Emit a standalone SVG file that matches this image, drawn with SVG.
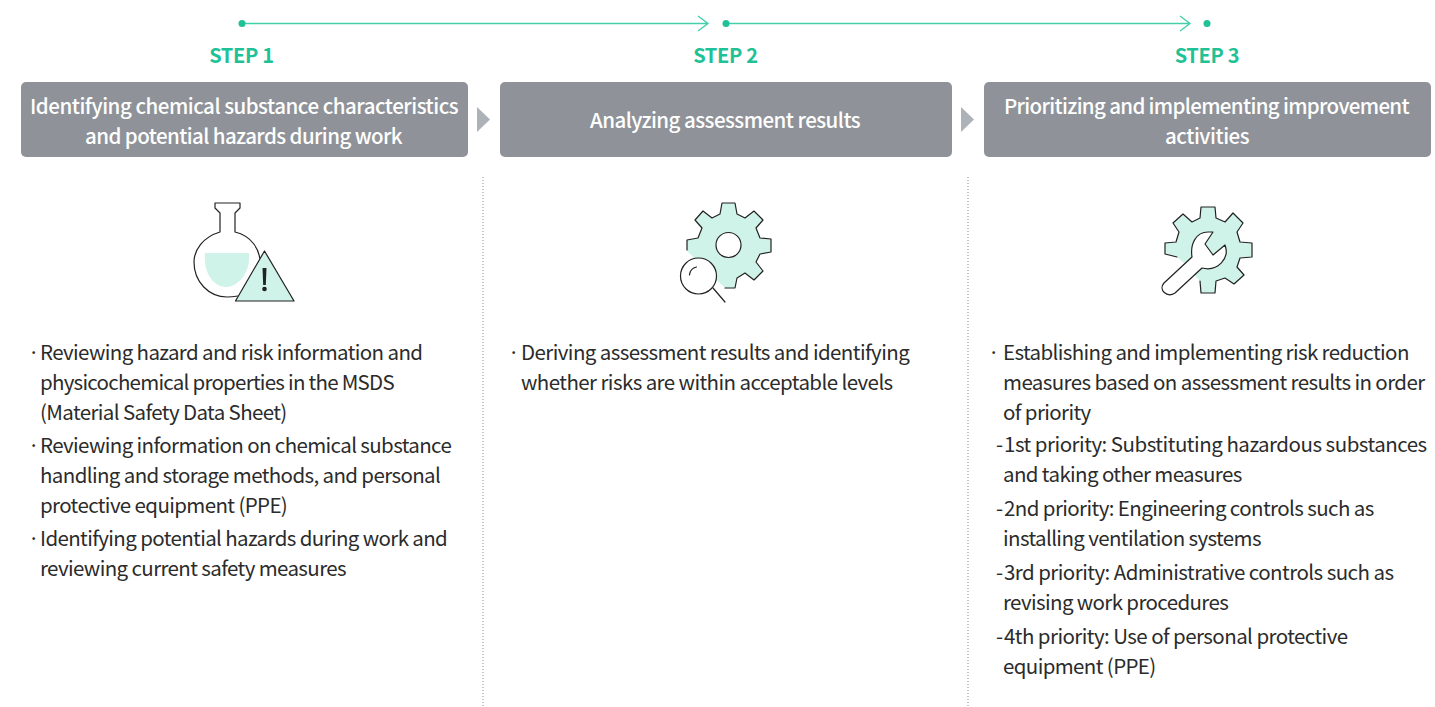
<svg xmlns="http://www.w3.org/2000/svg" width="1435" height="707" viewBox="0 0 1435 707">
<style>
text{font-family:"Noto Sans CJK KR","Noto Sans",sans-serif}
.step{font-size:20px;font-weight:700;fill:#1fc196;text-anchor:middle;letter-spacing:-.3px}
.head{font-size:20.500px;font-weight:500;fill:#fff;text-anchor:middle;letter-spacing:-.6px}
.body{font-size:20.500px;fill:#2b2b2b;letter-spacing:-.62px}
.box{fill:#8f9399}
.tri{fill:#adb2b9}
.flow{stroke:#45d0ac;stroke-width:1.400;fill:none}
.dot{fill:#1fc196}
.div{stroke:#8a8a8a;stroke-width:1;stroke-dasharray:1 2;fill:none}
.ink{fill:none;stroke:#222;stroke-width:1.200;stroke-linejoin:round;stroke-linecap:round}
.mint{fill:#cff3e8}
</style>
<g id="connectors">
<path class="flow" d="M242 23.500H708M698 16l10 7.500-10 7.500"/>
<circle class="dot" cx="242" cy="23.500" r="3.500"/>
<path class="flow" d="M726 23.500H1190M1180 16l10 7.500-10 7.500"/>
<circle class="dot" cx="726" cy="23.500" r="3.500"/>
<circle class="dot" cx="1207" cy="23.500" r="3.500"/>
<path class="tri" d="M477 107l13 12.500-13 12.500z"/>
<path class="tri" d="M961 107l13 12.500-13 12.500z"/>
<path class="div" d="M483 177V707M968 177V707"/>
</g>
<g id="step1">
<text class="step" x="241.500" y="63">STEP 1</text>
<rect class="box" x="21" y="82" width="447" height="75" rx="5"/>
<text class="head" x="244" y="114" textLength="428">Identifying chemical substance characteristics</text>
<text class="head" x="243.500" y="144" textLength="317">and potential hazards during work</text>
<g id="icon-flask">
<path class="mint" d="M205 253H249C251 272 238 287 226 287C213 287 203 272 205 253Z"/>
<path class="ink" d="M215 203H240V208L235 213V232C252 236 260 250 260 262M215 203V208L220 213V232C203 237 194 250 194 262C194 282 209 297 227 297C231 297 235 296.500 238 296"/>
<path class="mint" d="M264 251L295 301H235Z"/>
<path class="ink" d="M264.500 251L294 301H235.500Z"/>
<path d="M262.500 268H266.500L265.800 285H263.200Z" fill="#222"/><circle cx="264.500" cy="289" r="2.300" fill="#222"/>
</g>
<text class="body"><tspan x="28" y="360">·</tspan><tspan x="40" y="360">Reviewing hazard and risk information and</tspan><tspan x="40" y="390" letter-spacing="-.75">physicochemical properties in the MSDS</tspan><tspan x="40" y="420">(Material Safety Data Sheet)</tspan><tspan x="28" y="453">·</tspan><tspan x="40" y="453">Reviewing information on chemical substance</tspan><tspan x="40" y="483">handling and storage methods, and personal</tspan><tspan x="40" y="513">protective equipment (PPE)</tspan><tspan x="28" y="546">·</tspan><tspan x="40" y="546">Identifying potential hazards during work and</tspan><tspan x="40" y="576">reviewing current safety measures</tspan></text>
</g>
<g id="step2">
<text class="step" x="725.500" y="63">STEP 2</text>
<rect class="box" x="500" y="82" width="452" height="75" rx="5"/>
<text class="head" x="725" y="128" textLength="270">Analyzing assessment results</text>
<g id="icon-gear">
<path class="mint" d="M722 203H735L737 214 745 218 754 211 763 220 756 228 760 238 771 239V252L760 254 756 262 763 271 754 280 745 273 737 278 735 288H725L687 251V240L698 238 702 228 695 220 703 211 712 218 720 214Z"/>
<path class="ink" d="M687 250V240L698 238 702 228 695 220 703 211 712 218 720 214 722 203H735L737 214 745 218 754 211 763 220 756 228 760 238 771 239V252L760 254 756 262 763 271 754 280 745 273 737 278 735 288H725"/>
<circle cx="728.500" cy="245" r="12.500" fill="#fff" stroke="#222" stroke-width="1.200"/>
<circle cx="698.500" cy="276" r="18" fill="#fff" stroke="#222" stroke-width="1.200"/>
<path class="ink" d="M713 288L725 302M689.500 275C690 270 692 268 696.500 267"/>
</g>
<text class="body"><tspan x="508" y="360">·</tspan><tspan x="521" y="360" letter-spacing="-.58">Deriving assessment results and identifying</tspan><tspan x="521" y="390" letter-spacing="-.58">whether risks are within acceptable levels</tspan></text>
</g>
<g id="step3">
<text class="step" x="1207" y="63">STEP 3</text>
<rect class="box" x="984" y="82" width="447" height="75" rx="5"/>
<text class="head" x="1206.500" y="114" textLength="405">Prioritizing and implementing improvement</text>
<text class="head" x="1207" y="144" textLength="84">activities</text>
<g id="icon-wrench">
<path class="mint" d="M1201 207H1215L1216 218 1225 222 1233 213 1243 223 1237 232 1240 242 1252 243V257L1240 258 1237 267 1244 275 1234 284 1225 278 1216 281 1215 293H1201L1200 281 1183 262 1177 257 1165 254V243L1176 242 1179 232 1173 223 1183 214 1192 222 1200 218Z"/>
<path class="ink" d="M1165 254V243L1176 242 1179 232 1173 223 1183 214 1192 222 1200 218 1201 207H1215L1216 218 1225 222 1233 213 1243 223 1237 232 1240 242 1252 243V257L1240 258 1237 267 1244 275 1234 284 1225 278 1216 281 1215 293H1201L1200 281M1165 254L1177 257"/>
<path d="M1164 283L1192 257C1190 244 1196 232 1208 232H1213L1205 244 1213 255 1225 245C1230 258 1218 272 1202 268L1175 293C1167 298 1158 290 1164 283Z" fill="#fff" stroke="#222" stroke-width="1.200" stroke-linejoin="round"/>
</g>
<text class="body"><tspan x="988" y="360">·</tspan><tspan x="1003" y="360">Establishing and implementing risk reduction</tspan><tspan x="1003" y="390" letter-spacing="-.6">measures based on assessment results in order</tspan><tspan x="1003" y="420">of priority</tspan><tspan x="996" y="452">-</tspan><tspan x="1004" y="452" letter-spacing="-.5">1st priority: Substituting hazardous substances</tspan><tspan x="1003" y="482">and taking other measures</tspan><tspan x="996" y="516">-</tspan><tspan x="1004" y="516" letter-spacing="-.6">2nd priority: Engineering controls such as</tspan><tspan x="1003" y="546">installing ventilation systems</tspan><tspan x="996" y="580">-</tspan><tspan x="1004" y="580" letter-spacing="-.55">3rd priority: Administrative controls such as</tspan><tspan x="1003" y="610">revising work procedures</tspan><tspan x="996" y="644">-</tspan><tspan x="1004" y="644" letter-spacing="-.57">4th priority: Use of personal protective</tspan><tspan x="1003" y="674">equipment (PPE)</tspan></text>
</g>
</svg>
